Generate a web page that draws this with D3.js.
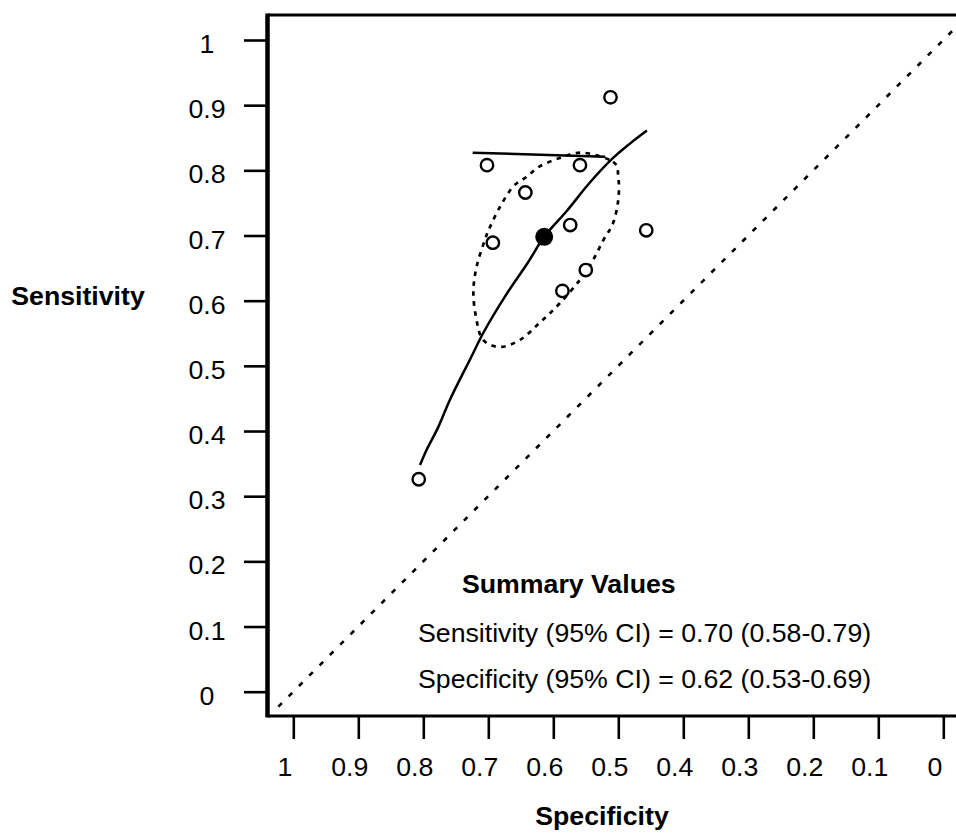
<!DOCTYPE html>
<html>
<head>
<meta charset="utf-8">
<script src="https://cdn.jsdelivr.net/npm/d3@7"></script>
<style>
  body { margin: 0; background: #fff; }
  svg { display: block; }
  text { font-family: "Liberation Sans", Arial, sans-serif; fill: #000; }
</style>
</head>
<body>
<svg id="chart" width="956" height="833"></svg>
<script>
// ---- data ----
const xTicks = [1, 0.9, 0.8, 0.7, 0.6, 0.5, 0.4, 0.3, 0.2, 0.1, 0];
const yTicks = [0, 0.1, 0.2, 0.3, 0.4, 0.5, 0.6, 0.7, 0.8, 0.9, 1];
const xTickLabels = ["1", "0.9", "0.8", "0.7", "0.6", "0.5", "0.4", "0.3", "0.2", "0.1", "0"];
const yTickLabels = ["0", "0.1", "0.2", "0.3", "0.4", "0.5", "0.6", "0.7", "0.8", "0.9", "1"];

// individual studies
const studySpec = [0.512, 0.702, 0.559, 0.643, 0.574, 0.457, 0.693, 0.550, 0.586, 0.807];
const studySens = [0.912, 0.808, 0.808, 0.766, 0.716, 0.708, 0.689, 0.647, 0.615, 0.326];

// summary point
const summarySpec = [0.614];
const summarySens = [0.698];

// SROC curve
const curveSpec = [0.805, 0.795, 0.777, 0.759, 0.726, 0.708, 0.672, 0.640, 0.614, 0.579, 0.544, 0.508, 0.482, 0.456];
const curveSens = [0.348, 0.371, 0.406, 0.448, 0.514, 0.550, 0.610, 0.657, 0.698, 0.738, 0.781, 0.819, 0.841, 0.861];

// short solid segment
const segSpec = [0.724, 0.520];
const segSens = [0.827, 0.821];

// 95% confidence region
const ellSpec = [0.554, 0.508, 0.500, 0.500, 0.508, 0.523, 0.539, 0.559, 0.590, 0.621, 0.651, 0.682, 0.708, 0.718, 0.723, 0.718, 0.705, 0.697, 0.682, 0.662, 0.641, 0.621, 0.590];
const ellSens = [0.827, 0.813, 0.790, 0.755, 0.719, 0.693, 0.662, 0.632, 0.596, 0.566, 0.540, 0.529, 0.540, 0.570, 0.612, 0.652, 0.694, 0.714, 0.744, 0.775, 0.790, 0.806, 0.819];

// chance line
const chanceSpec = [1.023, -0.016];
const chanceSens = [-0.023, 1.016];

const summaryTitle = "Summary Values";
const summaryLines = ["Sensitivity (95% CI) = 0.70 (0.58-0.79)", "Specificity (95% CI) = 0.62 (0.53-0.69)"];
const xTitle = "Specificity";
const yTitle = "Sensitivity";

// ---- layout ----
const svg = d3.select("#chart");
const box = { left: 268, top: 15, right: 980, bottom: 716 };
const x = d3.scaleLinear().domain([1, 0]).range([293.3, 943.3]);
const y = d3.scaleLinear().domain([0, 1]).range([691.7, 40]);
const FS = 26.7;

// chance line
svg.append("line")
  .attr("x1", x(chanceSpec[0])).attr("y1", y(chanceSens[0]))
  .attr("x2", x(chanceSpec[1])).attr("y2", y(chanceSens[1]))
  .attr("stroke", "#000").attr("stroke-width", 2.6)
  .attr("stroke-dasharray", "5,9.6");

// confidence ellipse
const ell = ellSpec.map((s, i) => [s, ellSens[i]]);
svg.append("path")
  .attr("d", d3.line().x(d => x(d[0])).y(d => y(d[1])).curve(d3.curveCardinalClosed)(ell))
  .attr("fill", "none").attr("stroke", "#000").attr("stroke-width", 2.7)
  .attr("stroke-dasharray", "4.5,5.5");

// SROC curve
const crv = curveSpec.map((s, i) => [s, curveSens[i]]);
svg.append("path")
  .attr("d", d3.line().x(d => x(d[0])).y(d => y(d[1])).curve(d3.curveCatmullRom.alpha(0.5))(crv))
  .attr("fill", "none").attr("stroke", "#000").attr("stroke-width", 2.5);

// segment
svg.append("line")
  .attr("x1", x(segSpec[0])).attr("y1", y(segSens[0]))
  .attr("x2", x(segSpec[1])).attr("y2", y(segSens[1]))
  .attr("stroke", "#000").attr("stroke-width", 2.5);

// studies
svg.selectAll("circle.study")
  .data(studySpec.map((s, i) => [s, studySens[i]]))
  .join("circle").attr("class", "study")
  .attr("cx", d => x(d[0])).attr("cy", d => y(d[1])).attr("r", 6.2)
  .attr("fill", "#fff").attr("stroke", "#000").attr("stroke-width", 2.4);

// summary point
svg.selectAll("circle.summary")
  .data(summarySpec.map((s, i) => [s, summarySens[i]]))
  .join("circle").attr("class", "summary")
  .attr("cx", d => x(d[0])).attr("cy", d => y(d[1])).attr("r", 9)
  .attr("fill", "#000");

// box: top, left, bottom
svg.append("line").attr("x1", box.left).attr("x2", box.right).attr("y1", box.top).attr("y2", box.top)
  .attr("stroke", "#000").attr("stroke-width", 2.8);
svg.append("line").attr("x1", box.left).attr("x2", box.right).attr("y1", box.bottom).attr("y2", box.bottom)
  .attr("stroke", "#000").attr("stroke-width", 3);
svg.append("line").attr("x1", box.left - 0.5).attr("x2", box.left - 0.5).attr("y1", box.top - 1.4).attr("y2", box.bottom + 1.5)
  .attr("stroke", "#000").attr("stroke-width", 4.5);

// y axis
const yAxis = d3.axisLeft(y).tickValues(yTicks).tickSize(22).tickFormat((d, i) => yTickLabels[i]);
const gy = svg.append("g").attr("transform", `translate(${box.left - 2},0)`).call(yAxis);
gy.select(".domain").remove();
gy.selectAll(".tick line").attr("stroke", "#000").attr("stroke-width", 2.6);
gy.selectAll(".tick text")
  .attr("x", -59).attr("dy", 0).attr("y", 12.5)
  .attr("text-anchor", "middle")
  .style("font-size", FS + "px").style("font-family", "'Liberation Sans', Arial, sans-serif");

// x axis
const xAxis = d3.axisBottom(x).tickValues(xTicks).tickSize(23).tickFormat((d, i) => xTickLabels[i]);
const gx = svg.append("g").attr("transform", `translate(0,${box.bottom})`).call(xAxis);
gx.select(".domain").remove();
gx.selectAll(".tick line").attr("stroke", "#000").attr("stroke-width", 2.6);
gx.selectAll(".tick text")
  .attr("y", 60).attr("dy", 0).attr("x", -9)
  .attr("text-anchor", "middle")
  .style("font-size", FS + "px").style("font-family", "'Liberation Sans', Arial, sans-serif");

// axis titles
svg.append("text").attr("x", 78).attr("y", 305).attr("text-anchor", "middle")
  .style("font-size", FS + "px").style("font-weight", "bold").text(yTitle);
svg.append("text").attr("x", 602).attr("y", 825).attr("text-anchor", "middle")
  .style("font-size", FS + "px").style("font-weight", "bold").text(xTitle);

// summary text
svg.append("text").attr("x", 462).attr("y", 593)
  .style("font-size", FS + "px").style("font-weight", "bold").text(summaryTitle);
summaryLines.forEach((t, i) => {
  svg.append("text").attr("x", 418).attr("y", 641.7 + i * 46.6)
    .style("font-size", FS + "px").text(t);
});
</script>
</body>
</html>
